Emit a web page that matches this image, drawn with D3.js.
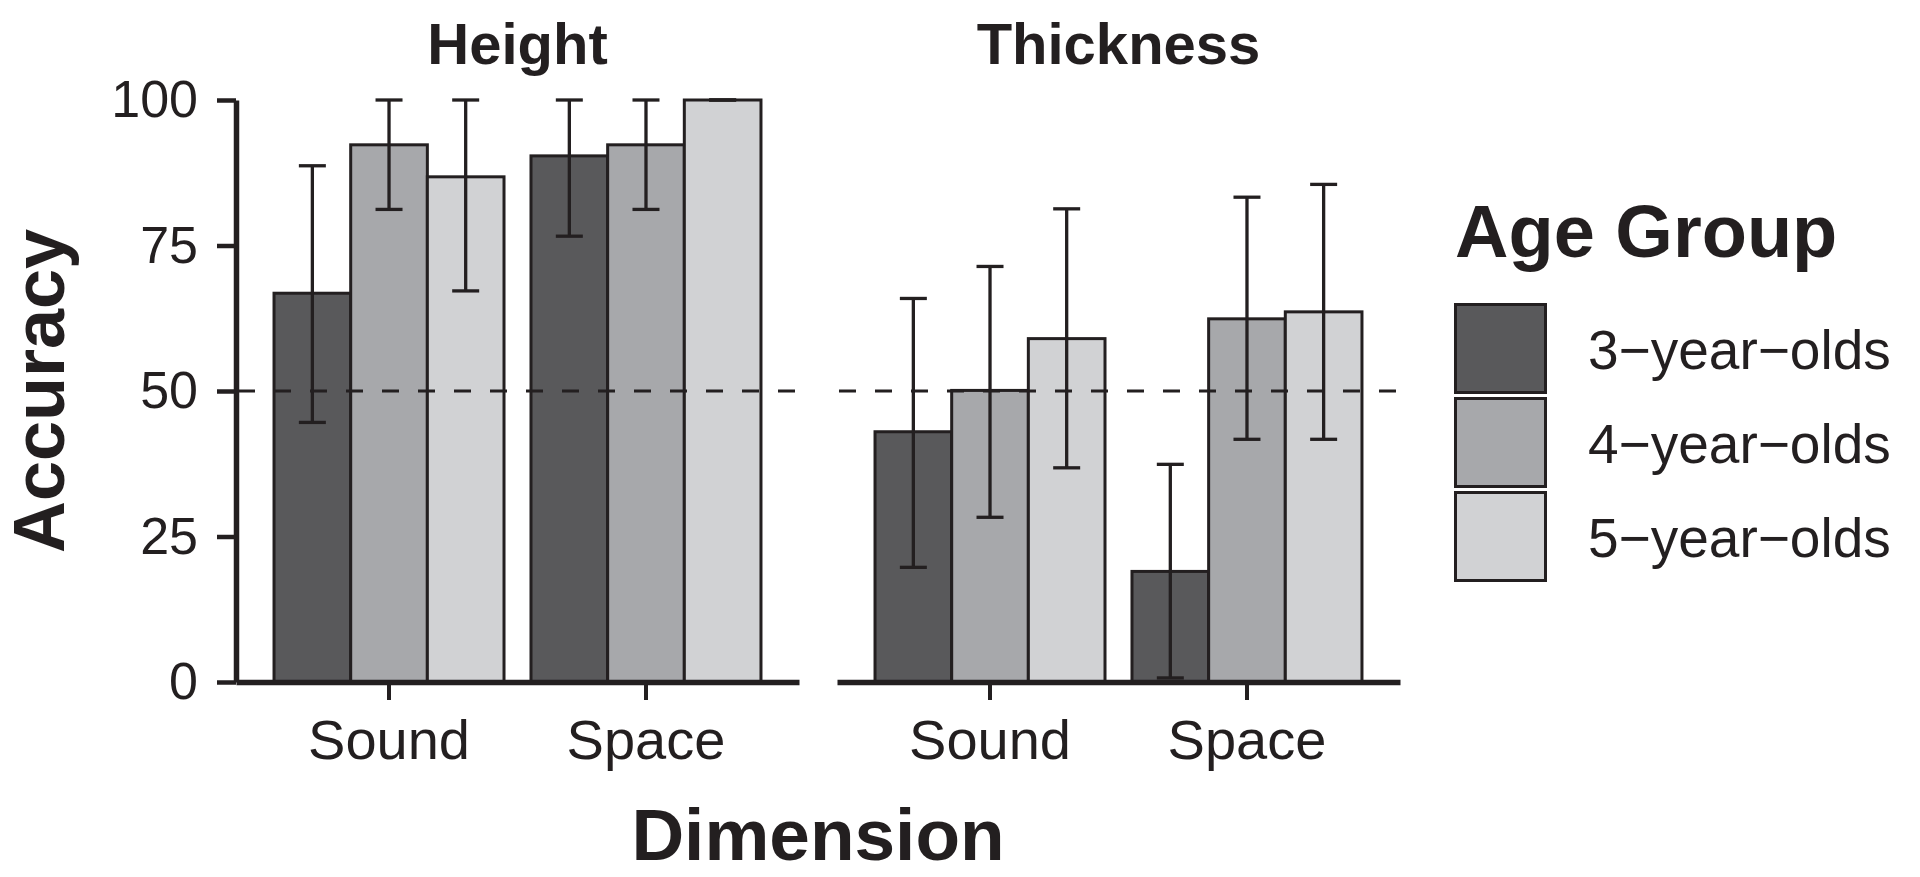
<!DOCTYPE html>
<html>
<head>
<meta charset="utf-8">
<script src="https://cdn.jsdelivr.net/npm/d3@7"></script>
<style>
  html, body { margin: 0; padding: 0; background: #ffffff; }
  svg { display: block; }
  text { font-family: "Liberation Sans", Arial, Helvetica, sans-serif; fill: #231f20; }
</style>
</head>
<body>
<svg id="chart" width="1920" height="877"></svg>
<script>
// ---- data ----
const facets = ["Height", "Thickness"];
const dimensions = ["Sound", "Space"];
const ageGroups = ["3\u2212year\u2212olds", "4\u2212year\u2212olds", "5\u2212year\u2212olds"];
const yTicks = [0, 25, 50, 75, 100];
const chanceLevel = 50;

// mean accuracy per age group (3, 4, 5 year olds)
const heightSoundMean = [66.8, 92.3, 86.8];
const heightSoundLow  = [44.6, 81.2, 67.2];
const heightSoundHigh = [88.7, 100, 100];

const heightSpaceMean = [90.4, 92.3, 100];
const heightSpaceLow  = [76.6, 81.2, 100];
const heightSpaceHigh = [100, 100, 100];

const thicknessSoundMean = [43.0, 50.1, 59.0];
const thicknessSoundLow  = [19.7, 28.3, 36.8];
const thicknessSoundHigh = [65.9, 71.4, 81.3];

const thicknessSpaceMean = [19.0, 62.4, 63.6];
const thicknessSpaceLow  = [0.7, 41.7, 41.7];
const thicknessSpaceHigh = [37.4, 83.3, 85.5];

const colors = ["#59595b", "#a7a8ab", "#d1d2d4"];

// build table
const series = {
  Height: { Sound: [heightSoundMean, heightSoundLow, heightSoundHigh],
            Space: [heightSpaceMean, heightSpaceLow, heightSpaceHigh] },
  Thickness: { Sound: [thicknessSoundMean, thicknessSoundLow, thicknessSoundHigh],
               Space: [thicknessSpaceMean, thicknessSpaceLow, thicknessSpaceHigh] }
};
const rows = [];
facets.forEach(f => dimensions.forEach(d => ageGroups.forEach((a, i) => {
  const s = series[f][d];
  rows.push({ facet: f, dim: d, age: a, idx: i, mean: s[0][i], lo: s[1][i], hi: s[2][i] });
})));

// ---- layout ----
const ink = "#231f20";
const svg = d3.select("#chart");

const panelX = d3.scaleBand().domain(facets).range([236, 1400]).paddingInner(0.0632).paddingOuter(0);
const pw = panelX.bandwidth();
const y = d3.scaleLinear().domain([0, 100]).range([682, 100]);
const x0 = d3.scaleBand().domain(dimensions).range([0, pw]).paddingInner(0.105).paddingOuter(0.148);
const x1 = d3.scaleBand().domain(ageGroups).range([0, x0.bandwidth()]).padding(0);
const color = d3.scaleOrdinal().domain(ageGroups).range(colors);

facets.forEach((f, fi) => {
  const g = svg.append("g").attr("transform", `translate(${panelX(f)},0)`);
  const data = rows.filter(r => r.facet === f);

  // bars
  g.selectAll("rect.bar").data(data).join("rect")
    .attr("class", "bar")
    .attr("x", d => x0(d.dim) + x1(d.age))
    .attr("width", x1.bandwidth())
    .attr("y", d => y(d.mean))
    .attr("height", d => y(0) - y(d.mean))
    .attr("fill", d => color(d.age))
    .attr("stroke", ink)
    .attr("stroke-width", 3);

  // error bars
  const capW = 27;
  const eb = g.selectAll("g.eb").data(data).join("g").attr("class", "eb")
    .attr("transform", d => `translate(${x0(d.dim) + x1(d.age) + x1.bandwidth() / 2},0)`);
  eb.append("line").attr("y1", d => y(d.lo)).attr("y2", d => y(d.hi))
    .attr("stroke", ink).attr("stroke-width", 3.3);
  eb.append("line").attr("x1", -capW / 2).attr("x2", capW / 2)
    .attr("y1", d => y(d.hi)).attr("y2", d => y(d.hi))
    .attr("stroke", ink).attr("stroke-width", 3.3);
  eb.append("line").attr("x1", -capW / 2).attr("x2", capW / 2)
    .attr("y1", d => y(d.lo)).attr("y2", d => y(d.lo))
    .attr("stroke", ink).attr("stroke-width", 3.3);

  // chance line
  g.append("line")
    .attr("x1", 2).attr("x2", pw)
    .attr("y1", y(chanceLevel)).attr("y2", y(chanceLevel))
    .attr("stroke", ink).attr("stroke-width", 2.8)
    .attr("stroke-dasharray", "17,19");

  // x axis
  const xa = g.append("g").attr("transform", `translate(0,${y(0)})`)
    .call(d3.axisBottom(x0).tickSizeInner(18).tickSizeOuter(0).tickPadding(19));
  xa.select(".domain").attr("stroke", ink).attr("stroke-width", 5.5);
  xa.selectAll(".tick line").attr("stroke", ink).attr("stroke-width", 4);
  xa.selectAll(".tick text").attr("font-size", 56).attr("fill", ink)
    .attr("font-family", "'Liberation Sans', Arial, sans-serif");

  // y axis only on first panel
  if (fi === 0) {
    const ya = g.append("g")
      .call(d3.axisLeft(y).tickValues(yTicks).tickSizeInner(19).tickSizeOuter(0).tickPadding(19));
    ya.select(".domain").attr("stroke", ink).attr("stroke-width", 5.5);
    ya.selectAll(".tick line").attr("stroke", ink).attr("stroke-width", 4.5);
    ya.selectAll(".tick text").attr("font-size", 52).attr("fill", ink)
      .attr("font-family", "'Liberation Sans', Arial, sans-serif");
  }

  // facet title
  svg.append("text")
    .attr("x", panelX(f) + pw / 2).attr("y", 64)
    .attr("text-anchor", "middle")
    .attr("font-size", 58).attr("font-weight", "bold")
    .text(f);
});

// axis titles
svg.append("text")
  .attr("transform", `translate(64,391) rotate(-90)`)
  .attr("text-anchor", "middle")
  .attr("font-size", 72).attr("font-weight", "bold")
  .text("Accuracy");

svg.append("text")
  .attr("x", (236 + 1400) / 2).attr("y", 860)
  .attr("text-anchor", "middle")
  .attr("font-size", 73).attr("font-weight", "bold")
  .text("Dimension");

// legend
const lg = svg.append("g").attr("transform", "translate(1454,0)");
lg.append("text").attr("x", 1).attr("y", 257)
  .attr("font-size", 74).attr("font-weight", "bold").text("Age Group");
const key = lg.selectAll("g.key").data(ageGroups).join("g").attr("class", "key")
  .attr("transform", (d, i) => `translate(0,${303 + i * 94})`);
key.append("rect").attr("x", 1.5).attr("y", 1.5).attr("width", 90).attr("height", 88)
  .attr("fill", d => color(d)).attr("stroke", ink).attr("stroke-width", 3);
key.append("text").attr("x", 134).attr("y", 46 + 0.36 * 55)
  .attr("font-size", 55).text(d => d);
</script>
</body>
</html>
